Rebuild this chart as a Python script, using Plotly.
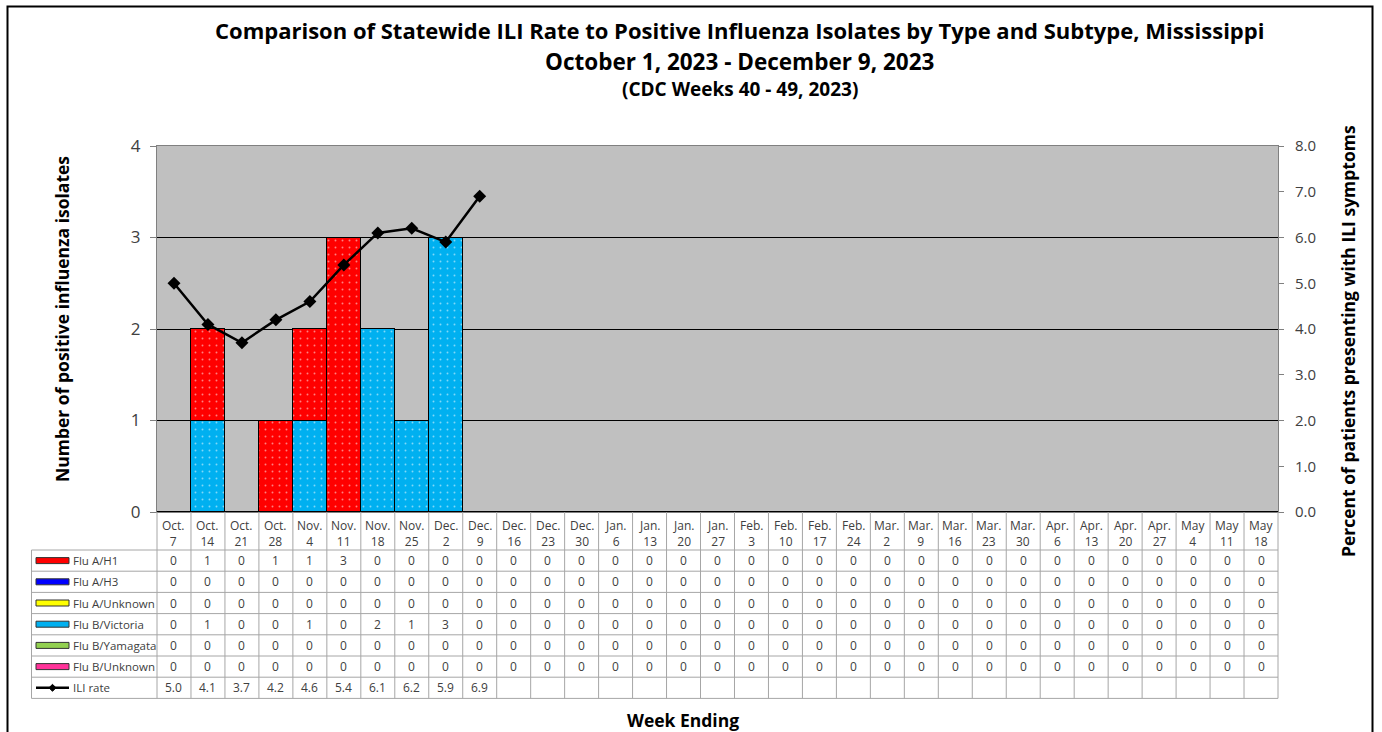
import plotly.graph_objects as go

# ---------------- data ----------------
months = ["Oct.", "Oct.", "Oct.", "Oct.", "Nov.", "Nov.", "Nov.", "Nov.", "Dec.", "Dec.", "Dec.",
          "Dec.", "Dec.", "Jan.", "Jan.", "Jan.", "Jan.", "Feb.", "Feb.", "Feb.", "Feb.", "Mar.",
          "Mar.", "Mar.", "Mar.", "Mar.", "Apr.", "Apr.", "Apr.", "Apr.", "May", "May", "May"]
days = ["7", "14", "21", "28", "4", "11", "18", "25", "2", "9", "16", "23", "30", "6", "13", "20",
        "27", "3", "10", "17", "24", "2", "9", "16", "23", "30", "6", "13", "20", "27", "4", "11", "18"]
categories = [m + " " + d for m, d in zip(months, days)]

flu_a_h1 = [0, 1, 0, 1, 1, 3, 0, 0, 0, 0] + [0] * 23
flu_a_h3 = [0] * 33
flu_a_unknown = [0] * 33
flu_b_victoria = [0, 1, 0, 0, 1, 0, 2, 1, 3, 0] + [0] * 23
flu_b_yamagata = [0] * 33
flu_b_unknown = [0] * 33
ili_rate = [5.0, 4.1, 3.7, 4.2, 4.6, 5.4, 6.1, 6.2, 5.9, 6.9]

series_names = ["Flu A/H1", "Flu A/H3", "Flu A/Unknown", "Flu B/Victoria", "Flu B/Yamagata", "Flu B/Unknown"]
series_values = [flu_a_h1, flu_a_h3, flu_a_unknown, flu_b_victoria, flu_b_yamagata, flu_b_unknown]
series_colors = ["#FF0000", "#0000FF", "#FFFF00", "#00B0F0", "#92D050", "#FF3399"]
stack_order = [3, 0, 1, 2, 4, 5]

# ---------------- layout geometry (pixels) ----------------
W, H = 1382, 732
L, R, T, B = 157, 1278, 146, 512
N = len(categories)

def px(xp):
    return (xp - L) / (R - L)

def py(yp):
    return (B - yp) / (B - T)

FONT = "Open Sans"
TXT = "#404040"
GRID = "#A6A6A6"

fig = go.Figure()

for k in stack_order:
    fig.add_trace(go.Bar(
        x=categories, y=series_values[k], name=series_names[k],
        marker=dict(color=series_colors[k], line=dict(color="black", width=1),
                    pattern=dict(shape=".", fgcolor="white", bgcolor=series_colors[k], size=7, solidity=0.06)),
        showlegend=False, hoverinfo="skip"))

fig.add_trace(go.Scatter(
    x=categories[:len(ili_rate)], y=ili_rate, yaxis="y2", mode="lines+markers",
    line=dict(color="black", width=2.5), marker=dict(symbol="diamond", size=10, color="black"),
    showlegend=False, name="ILI rate"))

shapes = []
annotations = []

def note(x, y, text, size, color=TXT, xref="paper", xanchor="center", **kw):
    annotations.append(dict(x=x, y=y, xref=xref, yref="paper", text=text, showarrow=False,
                            xanchor=xanchor, yanchor="middle",
                            font=dict(family=FONT, size=size, color=color), **kw))

# outer frame
shapes.append(dict(type="rect", xref="paper", yref="paper", x0=px(7.5), x1=px(1372.5), y0=py(740), y1=py(6.5),
                   line=dict(color="black", width=2), layer="below"))

# table geometry
header_top, row_top, row_h = 512, 550, 21.2
n_rows = 7
table_bottom = row_top + n_rows * row_h
legend_left = 31.5
col_w = (R - L) / N

for i in range(N + 1):
    xx = px(L + i * col_w)
    shapes.append(dict(type="line", xref="paper", yref="paper", x0=xx, x1=xx, y0=py(header_top), y1=py(table_bottom),
                       line=dict(color=GRID, width=1)))
shapes.append(dict(type="line", xref="paper", yref="paper", x0=px(legend_left), x1=px(legend_left),
                   y0=py(row_top), y1=py(table_bottom), line=dict(color=GRID, width=1)))
for r in range(n_rows + 1):
    yy = py(row_top + r * row_h)
    shapes.append(dict(type="line", xref="paper", yref="paper", x0=px(legend_left), x1=1, y0=yy, y1=yy,
                       line=dict(color=GRID, width=1)))

# header labels
for i in range(N):
    note(i, py(533), months[i] + "<br>" + days[i], 12, xref="x")

# table values
row_names = series_names + ["ILI rate"]
for r in range(n_rows):
    ymid = row_top + (r + 0.5) * row_h
    yc = py(ymid)
    if r < 6:
        vals = [str(v) for v in series_values[r]]
    else:
        vals = ["%.1f" % v for v in ili_rate]
    for i, v in enumerate(vals):
        note(i, yc, v, 12, xref="x")
    note(px(71), yc, row_names[r], 11.5, xanchor="left")
    if r < 6:
        shapes.append(dict(type="rect", xref="paper", yref="paper", x0=px(36), x1=px(69),
                           y0=py(ymid + 3), y1=py(ymid - 3),
                           fillcolor=series_colors[r], line=dict(color="#333333", width=1)))
    else:
        shapes.append(dict(type="line", xref="paper", yref="paper", x0=px(36), x1=px(69), y0=yc, y1=yc,
                           line=dict(color="black", width=2.5)))
        cx = 52.5
        path = "M %f %f L %f %f L %f %f L %f %f Z" % (px(cx - 3.5), py(ymid), px(cx), py(ymid - 3.5),
                                                      px(cx + 3.5), py(ymid), px(cx), py(ymid + 3.5))
        shapes.append(dict(type="path", xref="paper", yref="paper", path=path, fillcolor="black",
                           line=dict(color="black", width=1)))

# titles
title_lines = [
    ("Comparison of Statewide ILI Rate to Positive Influenza Isolates by Type and Subtype, Mississippi", 30, 22),
    ("October 1, 2023 - December 9, 2023", 61, 22.5),
    ("(CDC Weeks 40 - 49, 2023)", 89, 19),
]
for text, yp, sz in title_lines:
    note(px(739.5), py(yp), "<b>%s</b>" % text, sz, color="black")

note(px(62), py(319), "<b>Number of positive influenza isolates</b>", 17.5, color="black", textangle=-90)
note(px(1348), py(341), "<b>Percent of patients presenting with ILI symptoms</b>", 17.5, color="black", textangle=-90)
note(px(683), py(720), "<b>Week Ending</b>", 17.5, color="black")

fig.update_layout(
    width=W, height=H,
    margin=dict(l=L, r=W - R, t=T, b=H - B, pad=0),
    paper_bgcolor="white", plot_bgcolor="#C0C0C0",
    barmode="stack", bargap=0,
    showlegend=False,
    xaxis=dict(type="category", range=[-0.5, N - 0.5], showticklabels=False, ticks="",
               showgrid=False, showline=True, linecolor="#808080", linewidth=1, mirror=True, zeroline=False),
    yaxis=dict(range=[0, 4], dtick=1, showgrid=True, gridcolor="black", gridwidth=1, zeroline=False,
               ticks="outside", ticklen=6, tickcolor="#808080", showline=True, linecolor="#808080", mirror=True,
               tickfont=dict(family=FONT, size=17, color=TXT), ticklabelstandoff=6),
    yaxis2=dict(range=[0, 8], dtick=1, tickformat=".1f", overlaying="y", side="right", showgrid=False,
                zeroline=False, ticks="outside", ticklen=5, tickcolor="#808080",
                tickfont=dict(family=FONT, size=15, color=TXT), ticklabelstandoff=8),
    shapes=shapes, annotations=annotations,
)

fig.write_html("out.html", config={"displayModeBar": False},
               post_script="document.body.style.margin='0';document.body.style.overflow='hidden';")
